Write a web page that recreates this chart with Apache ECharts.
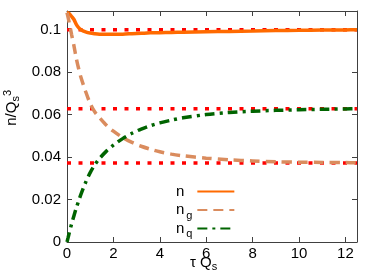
<!DOCTYPE html>
<html><head><meta charset="utf-8">
<script src="https://cdn.jsdelivr.net/npm/echarts@6/dist/echarts.min.js"></script>
<style>html,body{margin:0;padding:0;background:#fff}#c{width:374px;height:280px}</style>
</head><body><div id="c"></div>
<script>
const tau    = [0, 0.05, 0.1, 0.2, 0.3, 0.4, 0.5, 0.6, 0.8, 1.0, 1.2, 1.4, 1.7, 2.0, 2.4, 2.8, 3.2, 3.6, 4, 4.5, 5, 6, 7, 8, 9, 10, 11, 12, 12.5];
const nTotal = [0.1080, 0.1079, 0.1075, 0.1062, 0.1048, 0.1025, 0.1010, 0.1000, 0.0990, 0.0984, 0.0981, 0.0979, 0.0978, 0.0978, 0.0979, 0.0981, 0.0983, 0.0985, 0.0986, 0.0987, 0.0988, 0.0990, 0.0992, 0.0994, 0.0996, 0.0997, 0.0998, 0.0999, 0.1000];
const nGluon = [0.1080, 0.1057, 0.1031, 0.0976, 0.0924, 0.0865, 0.0817, 0.0776, 0.0710, 0.0652, 0.0612, 0.0586, 0.0550, 0.0522, 0.0492, 0.0469, 0.0451, 0.0437, 0.0425, 0.0414, 0.0406, 0.0395, 0.0387, 0.0382, 0.0378, 0.0376, 0.0375, 0.0374, 0.0373];
const nQuark = [0, 0.0022, 0.0044, 0.0086, 0.0124, 0.0160, 0.0193, 0.0224, 0.0280, 0.0327, 0.0364, 0.0393, 0.0428, 0.0456, 0.0487, 0.0512, 0.0532, 0.0548, 0.0561, 0.0574, 0.0585, 0.0600, 0.0610, 0.0616, 0.0620, 0.0623, 0.0625, 0.0627, 0.0628];
const eqLevels = [0.1, 0.0628, 0.0372];
const xRange = [0, 12.5];
const yRange = [0, 0.1088];
const seriesNames = ['n', 'n_g', 'n_q'];

const zip = (xs, ys) => xs.map((x, i) => [x, ys[i]]);
const font = 'Liberation Sans, Arial, sans-serif';
const axisColor = '#404040';

const chart = echarts.init(document.getElementById('c'), null, {renderer: 'canvas'});

const eqSeries = eqLevels.map(v => ({
  type: 'line', name: 'eq' + v, data: [[xRange[0], v], [xRange[1], v]],
  symbol: 'none', silent: true, z: 1,
  lineStyle: {color: '#ff0000', width: 3.5, type: [4, 7.5]}
}));

const legendRich = {
  b: {fontSize: 15, fontFamily: font, color: '#000'},
  s: {fontSize: 11, fontFamily: font, color: '#000', width: 8, padding: [11, 0, 0, 0]}
};

chart.setOption({
  animation: false,
  grid: {left: 67, right: 17, top: 11, bottom: 38, containLabel: false},
  xAxis: [{
    type: 'value', min: xRange[0], max: xRange[1], interval: 2,
    axisLine: {show: true, onZero: false, lineStyle: {color: axisColor, width: 1}},
    axisTick: {show: true, inside: true, length: 5, lineStyle: {color: axisColor}},
    axisLabel: {show: true, showMaxLabel: false, color: '#000', fontSize: 15, fontFamily: font, margin: 4},
    splitLine: {show: false}
  }, {
    type: 'value', position: 'top', min: xRange[0], max: xRange[1], interval: 2,
    axisLine: {show: true, onZero: false, lineStyle: {color: axisColor, width: 1}},
    axisTick: {show: true, inside: true, length: 5, lineStyle: {color: axisColor}},
    axisLabel: {show: false}, splitLine: {show: false}
  }],
  yAxis: [{
    type: 'value', min: yRange[0], max: yRange[1], interval: 0.02,
    axisLine: {show: true, onZero: false, lineStyle: {color: axisColor, width: 1}},
    axisTick: {show: true, inside: true, length: 5, lineStyle: {color: axisColor}},
    axisLabel: {show: true, showMaxLabel: false, color: '#000', fontSize: 15, fontFamily: font, margin: 6},
    splitLine: {show: false}
  }, {
    type: 'value', position: 'right', min: yRange[0], max: yRange[1], interval: 0.02,
    axisLine: {show: true, onZero: false, lineStyle: {color: axisColor, width: 1}},
    axisTick: {show: true, inside: true, length: 5, lineStyle: {color: axisColor}},
    axisLabel: {show: false}, splitLine: {show: false}
  }],
  legend: {
    data: seriesNames, orient: 'vertical', align: 'right',
    left: 176, top: 184, itemWidth: 37, itemHeight: 10, itemGap: 0,
    padding: 0,
    itemStyle: {opacity: 0},
    formatter: name => name === 'n' ? '{b|n}{s| }' : '{b|n}{s|' + name.slice(2) + '}',
    textStyle: {rich: legendRich, fontSize: 15, fontFamily: font}
  },
  graphic: [{
    type: 'text', left: 2, top: 90, rotation: Math.PI / 2,
    style: {
      text: '{b|n/Q}{s|s}{p|3}',
      rich: {
        b: {fontSize: 15, fontFamily: font, fill: '#000'},
        s: {fontSize: 11, fontFamily: font, fill: '#000', padding: [9, 0, 0, 0]},
        p: {fontSize: 11, fontFamily: font, fill: '#000', padding: [0, 0, 8, 0]}
      }
    }
  }, {
    type: 'text', left: 190, top: 255,
    style: {
      text: '{b|τ Q}{s|s}',
      rich: {
        b: {fontSize: 15, fontFamily: font, fill: '#000'},
        s: {fontSize: 11, fontFamily: font, fill: '#000', padding: [9, 0, 0, 0]}
      }
    }
  }],
  series: eqSeries.concat([
    {type: 'line', name: 'n', data: zip(tau, nTotal), symbol: 'none', smooth: 0.3, z: 3,
     lineStyle: {color: '#ff6a00', width: 3.5, type: 'solid'}, itemStyle: {color: '#ff6a00'}},
    {type: 'line', name: 'n_g', data: zip(tau, nGluon), symbol: 'none', smooth: 0.3, z: 3,
     lineStyle: {color: '#da8c5e', width: 3.5, type: [10, 6]}, itemStyle: {color: '#da8c5e'}},
    {type: 'line', name: 'n_q', data: zip(tau, nQuark), symbol: 'none', smooth: 0.3, z: 3,
     lineStyle: {color: '#006400', width: 3.5, type: [10, 5, 3, 5]}, itemStyle: {color: '#006400'}}
  ])
});
</script></body></html>
